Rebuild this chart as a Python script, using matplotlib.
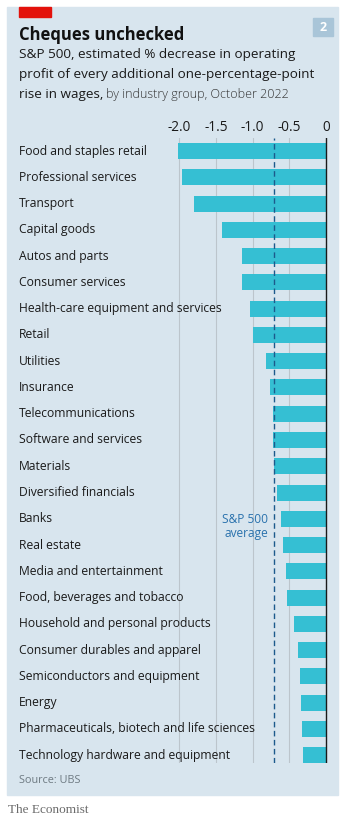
import matplotlib.pyplot as plt
from matplotlib.patches import Rectangle
from matplotlib.transforms import blended_transform_factory

# industry groups, top to bottom
groups = [
    "Food and staples retail", "Professional services", "Transport",
    "Capital goods", "Autos and parts", "Consumer services",
    "Health-care equipment and services", "Retail", "Utilities",
    "Insurance", "Telecommunications", "Software and services",
    "Materials", "Diversified financials", "Banks", "Real estate",
    "Media and entertainment", "Food, beverages and tobacco",
    "Household and personal products", "Consumer durables and apparel",
    "Semiconductors and equipment", "Energy",
    "Pharmaceuticals, biotech and life sciences",
    "Technology hardware and equipment",
]
# % decrease in operating profit per 1pp rise in wages
values = [
    -2.02, -1.96, -1.80, -1.42, -1.15, -1.14, -1.03, -1.00, -0.82,
    -0.77, -0.73, -0.72, -0.71, -0.67, -0.62, -0.59, -0.55, -0.53,
    -0.44, -0.38, -0.36, -0.35, -0.33, -0.31,
]
sp500_avg = -0.71
ticks = [-2.0, -1.5, -1.0, -0.5, 0]
tick_labels = ["-2.0", "-1.5", "-1.0", "-0.5", "0"]

W, H = 340, 835
BG = "#d8e5ee"
BAR = "#35bfd3"
FONT = "Open Sans"

fig = plt.figure(figsize=(W / 100, H / 100), dpi=100)

def fx(px):
    return px / W

def fy(py):
    return 1 - py / H

# panel background, red tag and number badge
fig.patches.append(Rectangle((fx(7), fy(795)), (338 - 7) / W, (795 - 7) / H,
                             transform=fig.transFigure, color=BG, zorder=-2))
fig.patches.append(Rectangle((fx(19), fy(17)), fx(32), 10 / H,
                             transform=fig.transFigure, color="#e3120b", zorder=-1))
fig.patches.append(Rectangle((fx(313), fy(36)), fx(20), 18 / H,
                             transform=fig.transFigure, color="#a9c5d8", zorder=-1))
fig.text(fx(323), fy(27.5), "2", color="white", fontsize=9, fontweight="bold",
         ha="center", va="center", family=FONT)

fig.text(fx(19), fy(40), "Cheques unchecked", fontsize=12, fontweight="bold",
         color="#111111", family=FONT, va="baseline")
sub_kw = dict(fontsize=9.7, color="#1a1a1a", family=FONT, va="baseline")
fig.text(fx(19), fy(58), "S&P 500, estimated % decrease in operating", **sub_kw)
fig.text(fx(19), fy(78), "profit of every additional one-percentage-point", **sub_kw)
t1 = fig.text(fx(19), fy(98), "rise in wages,", **sub_kw)
fig.canvas.draw()
r = t1.get_window_extent().x1
fig.text((r + 3) / W, fy(98), "by industry group, October 2022",
         fontsize=9.0, color="#333333", family=FONT, fontweight="light", va="baseline")

# bar axes
ax = fig.add_axes([fx(170), fy(763), fx(330) - fx(170), fy(138) - fy(763)])
ax.set_facecolor("none")
ypos = list(range(len(groups)))
ax.barh(ypos, values, height=0.61, color=BAR, zorder=2)
ax.set_xlim(-2.122, 0.05)
ax.set_ylim(23.3, -0.5)

for t in ticks[:-1]:
    ax.axvline(t, color="#bcc5cc", lw=0.8, zorder=1)
ax.axvline(0, color="#1a1a1a", lw=1.0, zorder=3)
ax.axvline(sp500_avg, color="#1c5a8c", lw=1.0, ls=(0, (4, 2.5)), zorder=4)

ax.xaxis.tick_top()
ax.set_xticks(ticks)
ax.set_xticklabels(tick_labels, family=FONT, fontsize=9.8, color="#1a1a1a")
ax.tick_params(axis="x", length=0, pad=2)
ax.set_yticks([])
for s in ax.spines.values():
    s.set_visible(False)

lab = blended_transform_factory(fig.transFigure, ax.transData)
for i, g in enumerate(groups):
    ax.text(fx(19), i, g, transform=lab, fontsize=8.7, color="#1a1a1a",
            family=FONT, va="center", ha="left", zorder=5)

ax.text(-0.72 - 0.07, 14.3, "S&P 500\naverage", fontsize=8.6, color="#2a72ad",
        family=FONT, ha="right", va="center", linespacing=1.05, zorder=5)

fig.text(fx(19), fy(783), "Source: UBS", fontsize=7.8, color="#6e7a82", family=FONT)
fig.text(fx(8), fy(813), "The Economist", fontsize=9.5, color="#6b6b6b",
         family="Liberation Serif")

fig.savefig("out.png", dpi=100)
